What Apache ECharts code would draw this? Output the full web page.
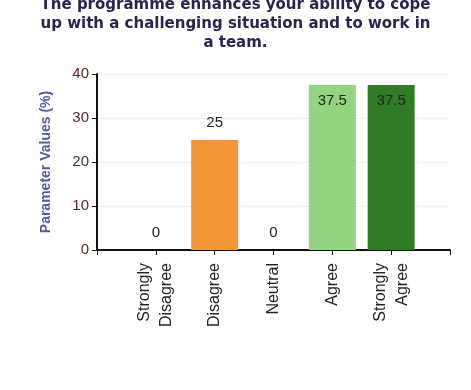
<!DOCTYPE html>
<html>
<head>
<meta charset="utf-8">
<script src="https://cdn.jsdelivr.net/npm/echarts@6/dist/echarts.min.js"></script>
<style>
  html, body { margin: 0; padding: 0; background: #ffffff; }
  #chart { width: 471px; height: 390px; }
</style>
</head>
<body>
<div id="chart"></div>
<script>
// Survey responses, percentage per answer
const categories = ['Strongly\nDisagree', 'Disagree', 'Neutral', 'Agree', 'Strongly\nAgree'];
const values = [0, 25, 0, 37.5, 37.5];
const barColors = ['#f4953a', '#f4953a', '#f4953a', '#93d47f', '#2f7c25'];
const labelInside = [false, false, false, true, true];
const yTicks = [0, 10, 20, 30, 40];

const titleText = 'The programme enhances your ability to cope\nup with a challenging situation and to work in\na team.';

const chart = echarts.init(document.getElementById('chart'));

// categories sit at positions 1..5 on a 0..6 axis, leaving a free slot at each end
const barData = values.map((v, i) => ({
  value: [i + 1, v],
  itemStyle: { color: barColors[i] },
  label: labelInside[i]
    ? { position: 'insideTop', distance: 8 }
    : { position: 'top', distance: 10 }
}));

chart.setOption({
  backgroundColor: '#ffffff',
  animation: false,
  title: {
    text: titleText,
    left: 'center',
    top: -9,
    textStyle: {
      fontFamily: 'DejaVu Sans',
      fontWeight: 'bold',
      fontSize: 15,
      lineHeight: 19,
      color: '#262650',
      align: 'center'
    }
  },
  grid: { left: 97, right: 21, top: 74, bottom: 140 },
  xAxis: {
    type: 'value',
    min: 0,
    max: 6,
    interval: 1,
    axisLine: { show: true, lineStyle: { color: '#111', width: 2 } },
    axisTick: { show: true, length: 5, lineStyle: { color: '#111', width: 1 } },
    splitLine: { show: false },
    axisLabel: {
      rotate: 90,
      margin: 13,
      fontFamily: 'Liberation Sans',
      fontSize: 16,
      lineHeight: 22,
      color: '#222',
      formatter: v => categories[v - 1] || ''
    }
  },
  yAxis: {
    type: 'value',
    min: yTicks[0],
    max: yTicks[yTicks.length - 1],
    interval: 10,
    name: 'Parameter Values (%)',
    nameLocation: 'middle',
    nameGap: 44,
    nameTextStyle: {
      fontFamily: 'Liberation Sans',
      fontWeight: 'bold',
      fontSize: 14,
      color: '#5357a6'
    },
    axisLine: { show: true, lineStyle: { color: '#111', width: 2 } },
    axisTick: { show: true, length: 5, lineStyle: { color: '#111' } },
    axisLabel: {
      margin: 8,
      fontFamily: 'Liberation Sans',
      fontSize: 15,
      color: '#5a2a22'
    },
    splitLine: { show: true, lineStyle: { color: '#efecec', width: 1 } }
  },
  series: [{
    type: 'bar',
    barWidth: 47,
    data: barData,
    label: {
      show: true,
      fontFamily: 'Liberation Sans',
      fontSize: 15,
      color: '#222',
      formatter: p => String(p.value[1])
    }
  }]
});
</script>
</body>
</html>
